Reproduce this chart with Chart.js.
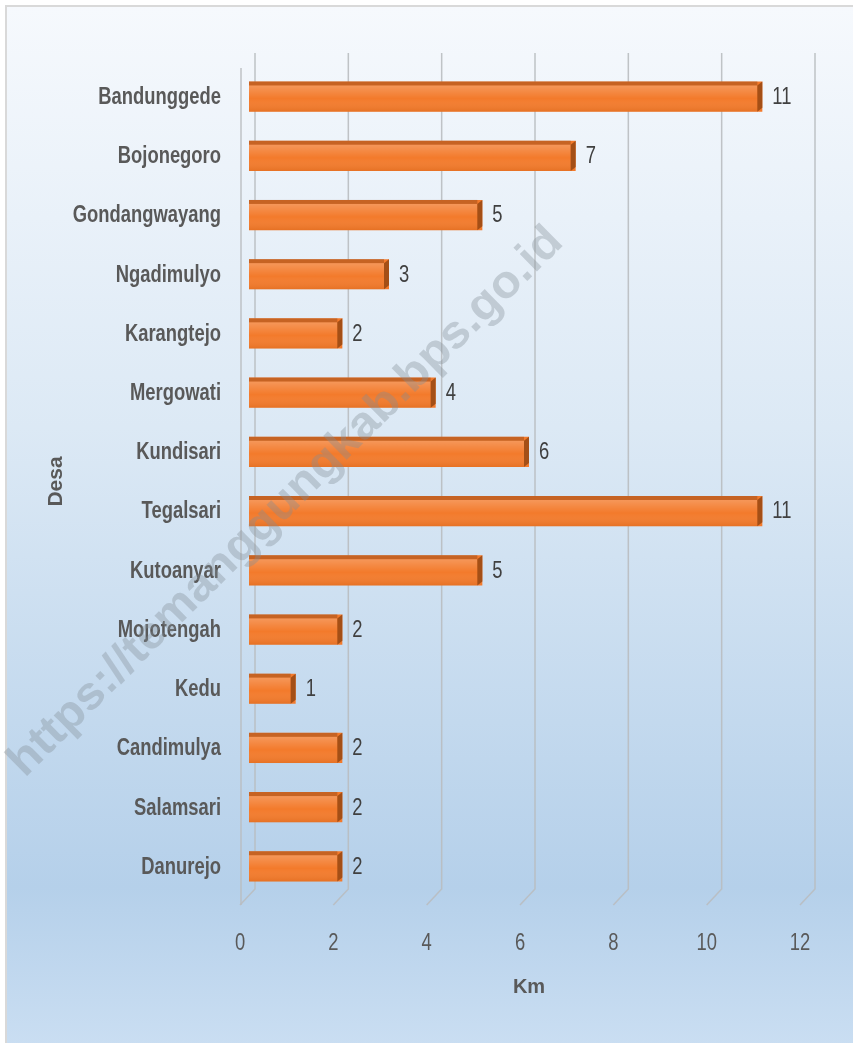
<!DOCTYPE html>
<html>
<head>
<meta charset="utf-8">
<script src="https://cdn.jsdelivr.net/npm/chart.js@4.4.1/dist/chart.umd.min.js"></script>
<style>
html, body { margin: 0; padding: 0; background: #fff; }
#wrap { position: relative; width: 853px; height: 1043px; overflow: hidden; background: #fff; }
#bg {
    position: absolute; left: 5px; top: 5px; width: 900px; height: 1100px;
    border: 2px solid #d9d9d9;
    background: linear-gradient(to bottom, #f6f9fd 0px, #dce9f5 420px, #b5d0ea 880px, #cadef2 1040px);
}
canvas { position: absolute; left: 0; top: 0; }
</style>
</head>
<body>
<div id="wrap">
    <div id="bg"></div>
    <canvas id="chart" width="853" height="1043"></canvas>
</div>
<script>
let desa = ["Bandunggede", "Bojonegoro", "Gondangwayang", "Ngadimulyo", "Karangtejo", "Mergowati",
    "Kundisari", "Tegalsari", "Kutoanyar", "Mojotengah", "Kedu", "Candimulya", "Salamsari", "Danurejo"];
let jarak = [11, 7, 5, 3, 2, 4, 6, 11, 5, 2, 1, 2, 2, 2];
let xTicks = [0, 2, 4, 6, 8, 10, 12];
let watermark = "https://temanggungkab.bps.go.id";

const ff = "'Liberation Sans', Arial, sans-serif";
const textColor = "#595959";
const squeeze = 0.8; // narrow look of the original labels

function narrowText(c, txt, x, y, align, font, color) {
    c.save();
    c.font = font;
    c.fillStyle = color;
    c.textAlign = align;
    c.textBaseline = "middle";
    c.translate(x, y);
    c.scale(squeeze, 1);
    c.fillText(txt, 0, 0);
    c.restore();
}

const grid3d = {
    id: 'grid3d',
    beforeDatasetsDraw(chart) {
        const c = chart.ctx, a = chart.chartArea, sx = chart.scales.x;
        c.save();
        c.lineWidth = 1.5;
        c.strokeStyle = "rgba(185,188,192,0.9)";
        c.beginPath();
        c.moveTo(a.left - 8, a.top + 1);
        c.lineTo(a.left - 8, a.bottom + 9);
        c.stroke();
        xTicks.forEach(v => {
            let px = sx.getPixelForValue(v);
            c.beginPath();
            c.moveTo(px + 6, a.top - 14);
            c.lineTo(px + 6, a.bottom - 7);
            c.lineTo(px - 9, a.bottom + 9);
            c.stroke();
        });
        c.restore();
    },
    afterDatasetsDraw(chart) {
        const c = chart.ctx, a = chart.chartArea, sx = chart.scales.x, sy = chart.scales.y;
        c.save();
        chart.getDatasetMeta(0).data.forEach((bar, i) => {
            const p = bar.getProps(['x', 'y', 'base', 'height'], true);
            const t = p.y - p.height / 2, b = p.y + p.height / 2;
            const w = p.x - p.base - 5;
            c.fillStyle = "rgba(160,80,30,0.55)";
            c.fillRect(p.base, t, w, 4);
            let g = c.createLinearGradient(0, t + 4, 0, b);
            g.addColorStop(0, "rgba(255,255,255,0.22)");
            g.addColorStop(0.5, "rgba(255,255,255,0)");
            g.addColorStop(1, "rgba(170,70,0,0.18)");
            c.fillStyle = g;
            c.fillRect(p.base, t + 4, w, b - t - 4);
            c.fillStyle = "#a44f16";
            c.beginPath();
            c.moveTo(p.x - 5, t + 4);
            c.lineTo(p.x, t);
            c.lineTo(p.x, b - 4);
            c.lineTo(p.x - 5, b);
            c.closePath();
            c.fill();
            narrowText(c, String(jarak[i]), p.x + 10, p.y + 1, "left", "23px " + ff, "#404040");
        });
        c.restore();

        // axis labels, placed by the scales
        desa.forEach((d, i) => {
            narrowText(c, d, a.left - 28, sy.getPixelForValue(i) + 1, "right", "bold 23px " + ff, textColor);
        });
        xTicks.forEach(v => {
            narrowText(c, String(v), sx.getPixelForValue(v) - 9, a.bottom + 48, "center", "23px " + ff, textColor);
        });
    },
    afterDraw(chart) {
        const c = chart.ctx;
        c.save();
        c.translate(286, 502);
        c.rotate(-44.7 * Math.PI / 180);
        c.font = "bold 50px " + ff;
        let sc = 760 / c.measureText(watermark).width;
        c.scale(sc, 0.92);
        c.fillStyle = "rgba(130,140,150,0.36)";
        c.textAlign = "center";
        c.textBaseline = "middle";
        c.fillText(watermark, 0, 0);
        c.restore();
    }
};

Chart.defaults.font.family = ff;

let ctx = document.getElementById('chart').getContext('2d');
new Chart(ctx, {
    type: 'bar',
    data: {
        labels: desa,
        datasets: [{
            label: 'Km',
            data: jarak,
            backgroundColor: '#f37a2b',
            borderWidth: 0,
            barPercentage: 0.51,
            categoryPercentage: 1
        }]
    },
    options: {
        indexAxis: 'y',
        responsive: false,
        animation: false,
        layout: { padding: { top: 67, right: 44, left: 0, bottom: 0 } },
        plugins: {
            legend: { display: false },
            tooltip: { enabled: false }
        },
        scales: {
            x: {
                min: 0,
                max: 12,
                grid: { display: false },
                border: { display: false },
                ticks: { stepSize: 2, display: false },
                title: {
                    display: true,
                    text: 'Km',
                    color: textColor,
                    font: { size: 20, weight: 'bold' },
                    padding: { top: 0, bottom: 44 }
                },
                afterFit(scale) { scale.height = 147; }
            },
            y: {
                grid: { display: false },
                border: { display: false },
                ticks: { display: false },
                title: {
                    display: true,
                    text: 'Desa',
                    color: textColor,
                    font: { size: 21, weight: 'bold' },
                    padding: { top: 44, bottom: 0 }
                },
                afterFit(scale) { scale.width = 249; }
            }
        }
    },
    plugins: [grid3d]
});
</script>
</body>
</html>
